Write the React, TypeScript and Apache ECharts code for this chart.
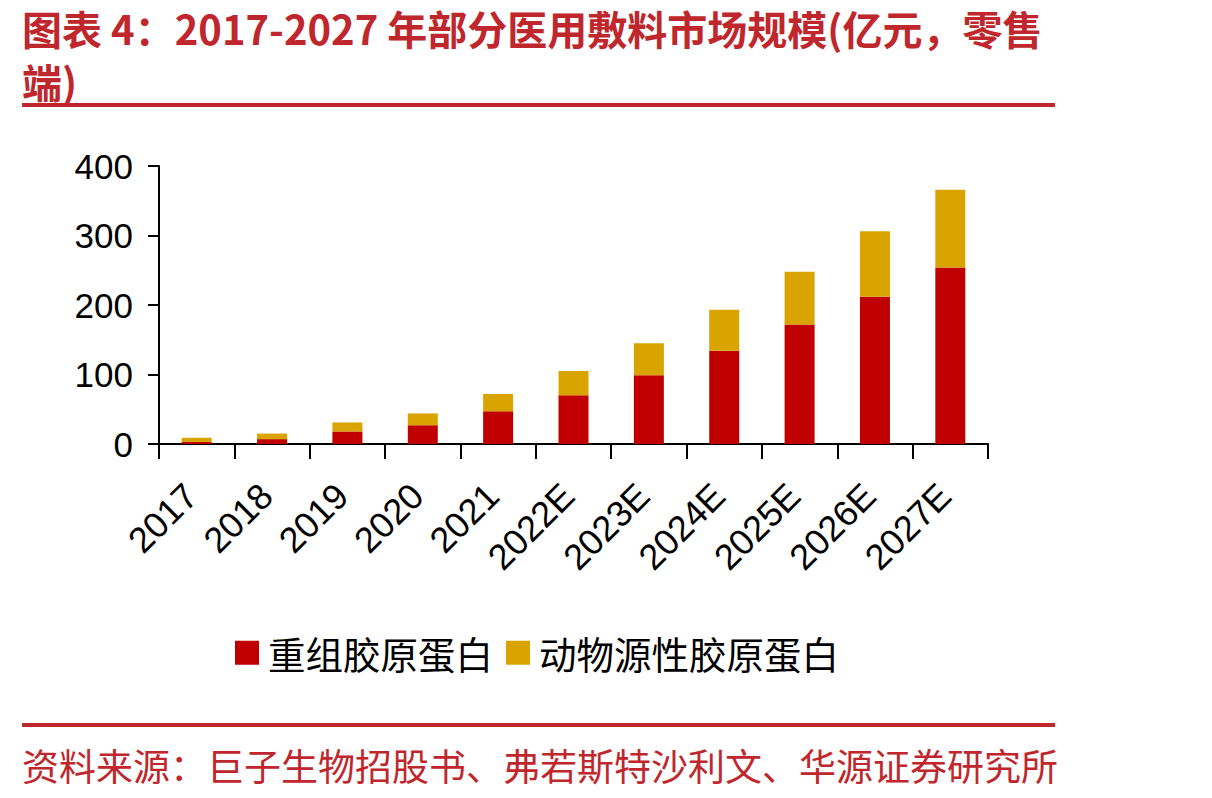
import React, { useEffect, useRef } from "react";
import * as echarts from "echarts";

// Retail market size of selected medical dressings, 100 million CNY
const years = ["2017", "2018", "2019", "2020", "2021", "2022E", "2023E", "2024E", "2025E", "2026E", "2027E"];
const recombinantCollagen = [3, 7, 18, 27, 47, 70, 99, 134, 172, 212, 254];
const animalCollagen = [6, 8, 13, 17, 25, 35, 46, 59, 76, 94, 112];
const yTicks = { min: 0, max: 400, interval: 100 };

const seriesNames = ["重组胶原蛋白", "动物源性胶原蛋白"];
const titleLines = ["图表 4：2017-2027 年部分医用敷料市场规模(亿元，零售", "端)"];
const sourceText = "资料来源：巨子生物招股书、弗若斯特沙利文、华源证券研究所";

const RED = "#C00000";
const GOLD = "#D9A400";
const BRAND = "#C0272D";
const CJK = "'Noto Sans CJK SC', 'Noto Sans', sans-serif";
const NUM = "'Liberation Sans', Arial, sans-serif";

export default function App() {
  const ref = useRef<HTMLDivElement>(null);

  useEffect(() => {
    document.body.style.margin = "0";
    if (!ref.current) return;
    const chart = echarts.init(ref.current, null, { renderer: "svg" });
    const axisLine = { show: true, lineStyle: { color: "#000", width: 2 } };
    const titleStyle = {
      fill: BRAND,
      fontSize: 40,
      fontWeight: "bold",
      fontFamily: CJK,
      verticalAlign: "middle",
    };
    chart.setOption({
      animation: false,
      backgroundColor: "#fff",
      graphic: [
        { type: "text", x: 22, y: 28, style: { ...titleStyle, text: titleLines[0] } },
        { type: "text", x: 22, y: 81, style: { ...titleStyle, text: titleLines[1] } },
        { type: "rect", shape: { x: 22, y: 103, width: 1033, height: 4 }, style: { fill: BRAND } },
        { type: "rect", shape: { x: 22, y: 723, width: 1033, height: 4 }, style: { fill: BRAND } },
        {
          type: "text",
          x: 22,
          y: 765,
          style: {
            text: sourceText,
            fill: BRAND,
            fontSize: 37,
            fontFamily: CJK,
            verticalAlign: "middle",
          },
        },
      ],
      legend: {
        data: seriesNames,
        left: 230,
        top: 629,
        itemWidth: 24,
        itemHeight: 24,
        itemGap: 13,
        icon: "rect",
        textStyle: { fontSize: 37.5, color: "#000", fontFamily: CJK, padding: [0, 0, 0, 4] },
      },
      grid: { left: 159, right: 224, top: 166, bottom: 354, containLabel: false },
      xAxis: {
        type: "category",
        data: years,
        axisLine,
        axisTick: { show: true, length: 15, alignWithLabel: false, lineStyle: { color: "#000", width: 2 } },
        axisLabel: {
          interval: 0,
          rotate: 45,
          margin: 40,
          padding: [0, 8, 0, 0],
          fontSize: 36,
          color: "#000",
          fontFamily: NUM,
        },
        splitLine: { show: false },
      },
      yAxis: {
        type: "value",
        min: yTicks.min,
        max: yTicks.max,
        interval: yTicks.interval,
        axisLine,
        axisTick: { show: true, length: 11, lineStyle: { color: "#000", width: 2 } },
        axisLabel: { margin: 26, fontSize: 35, color: "#000", fontFamily: NUM },
        splitLine: { show: false },
      },
      series: [
        {
          name: seriesNames[0],
          type: "bar",
          stack: "total",
          barWidth: 30,
          data: recombinantCollagen,
          itemStyle: { color: RED },
        },
        {
          name: seriesNames[1],
          type: "bar",
          stack: "total",
          barWidth: 30,
          data: animalCollagen,
          itemStyle: { color: GOLD },
        },
      ],
    });
    return () => chart.dispose();
  }, []);

  return <div ref={ref} style={{ width: 1212, height: 798 }} />;
}
